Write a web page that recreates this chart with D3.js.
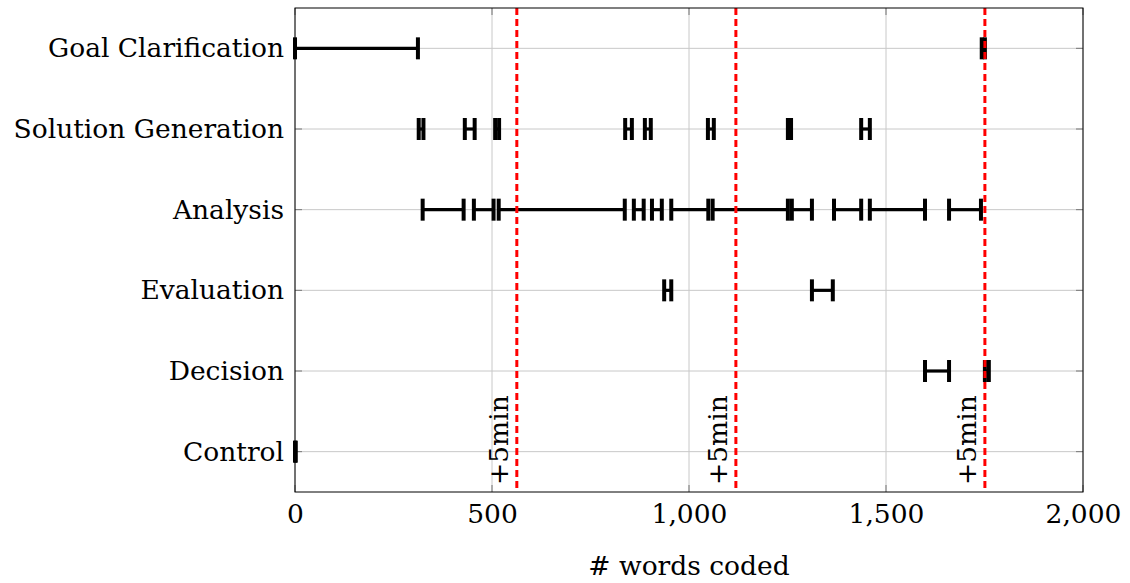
<!DOCTYPE html>
<html>
<head>
<meta charset="utf-8">
<script src="https://cdn.jsdelivr.net/npm/d3@7"></script>
<style>
  body { margin: 0; background: #fff; }
  text { font-family: "DejaVu Serif", "Liberation Serif", serif; }
</style>
</head>
<body>
<svg id="chart"></svg>
<script>
// categories, top to bottom
var categories = ["Goal Clarification", "Solution Generation", "Analysis", "Evaluation", "Decision", "Control"];

// intervals per category [start, end] in words coded
var goalClarification = [[0, 312], [1743, 1751]];
var solutionGeneration = [[314, 326], [431, 456], [508, 518], [838, 855], [888, 903], [1048, 1063], [1251, 1259], [1437, 1459]];
var analysis = [[324, 428], [454, 504], [517, 837], [860, 885], [906, 931], [955, 1049], [1060, 1251], [1261, 1312], [1368, 1437], [1459, 1599], [1660, 1741]];
var evaluation = [[937, 955], [1312, 1365]];
var decision = [[1599, 1660], [1751, 1761]];
var control = [[0, 2]];

var markers = [563, 1119, 1751];
var markerLabel = "+5min";
var xTicks = [0, 500, 1000, 1500, 2000];

var series = [goalClarification, solutionGeneration, analysis, evaluation, decision, control];

var fontSize = 26.5;

var margin = {top: 8, right: 47, bottom: 91, left: 295},
    width = 1130 - margin.left - margin.right,
    height = 583 - margin.top - margin.bottom;

var svg = d3.select("#chart")
    .attr("width", 1130)
    .attr("height", 583)
  .append("g")
    .attr("transform", "translate(" + margin.left + "," + margin.top + ")");

var x = d3.scaleLinear()
    .domain([0, 2000])
    .range([0, width]);

var y = d3.scalePoint()
    .domain(categories)
    .range([0, height])
    .padding(0.5);

// grid
svg.append("g")
    .selectAll("line")
    .data(xTicks)
    .enter().append("line")
      .attr("x1", function(d) { return x(d); })
      .attr("x2", function(d) { return x(d); })
      .attr("y1", 0)
      .attr("y2", height)
      .attr("stroke", "#c8c8c8")
      .attr("stroke-width", 1);

svg.append("g")
    .selectAll("line")
    .data(categories)
    .enter().append("line")
      .attr("x1", 0)
      .attr("x2", width)
      .attr("y1", function(d) { return y(d); })
      .attr("y2", function(d) { return y(d); })
      .attr("stroke", "#c8c8c8")
      .attr("stroke-width", 1);

// inward ticks
var tickG = svg.append("g").attr("stroke", "#777").attr("stroke-width", 1);
xTicks.forEach(function(t) {
  tickG.append("line").attr("x1", x(t)).attr("x2", x(t)).attr("y1", height).attr("y2", height - 7);
  tickG.append("line").attr("x1", x(t)).attr("x2", x(t)).attr("y1", 0).attr("y2", 7);
});
categories.forEach(function(c) {
  tickG.append("line").attr("x1", 0).attr("x2", 7).attr("y1", y(c)).attr("y2", y(c));
  tickG.append("line").attr("x1", width).attr("x2", width - 7).attr("y1", y(c)).attr("y2", y(c));
});

// x axis labels
var xAxis = d3.axisBottom(x)
    .tickValues(xTicks)
    .tickSize(0)
    .tickPadding(12)
    .tickFormat(d3.format(","));

svg.append("g")
    .attr("transform", "translate(0," + height + ")")
    .call(xAxis)
    .call(function(g) { g.select(".domain").remove(); })
  .selectAll("text")
    .attr("font-family", "DejaVu Serif, serif")
    .attr("font-size", fontSize)
    .attr("fill", "#000");

// y axis labels
var yAxis = d3.axisLeft(y).tickSize(0).tickPadding(11);
svg.append("g")
    .call(yAxis)
    .call(function(g) { g.select(".domain").remove(); })
  .selectAll("text")
    .attr("font-family", "DejaVu Serif, serif")
    .attr("font-size", fontSize)
    .attr("fill", "#000");

// intervals
categories.forEach(function(c, i) {
  var g = svg.append("g");
  g.selectAll("line.seg")
      .data(series[i])
      .enter().append("line")
        .attr("class", "seg")
        .attr("x1", function(d) { return x(d[0]); })
        .attr("x2", function(d) { return x(d[1]); })
        .attr("y1", y(c))
        .attr("y2", y(c))
        .attr("stroke", "#000")
        .attr("stroke-width", 3.2);
  var caps = [];
  series[i].forEach(function(d) { caps.push(d[0]); caps.push(d[1]); });
  g.selectAll("line.cap")
      .data(caps)
      .enter().append("line")
        .attr("class", "cap")
        .attr("x1", function(d) { return x(d); })
        .attr("x2", function(d) { return x(d); })
        .attr("y1", y(c) - 11)
        .attr("y2", y(c) + 11)
        .attr("stroke", "#000")
        .attr("stroke-width", 4);
});

// markers
svg.append("g")
    .selectAll("line")
    .data(markers)
    .enter().append("line")
      .attr("x1", function(d) { return x(d); })
      .attr("x2", function(d) { return x(d); })
      .attr("y1", 0)
      .attr("y2", height)
      .attr("stroke", "#ff0000")
      .attr("stroke-width", 3)
      .attr("stroke-dasharray", "7,4");

svg.append("g")
    .selectAll("text")
    .data(markers)
    .enter().append("text")
      .attr("transform", function(d) { return "translate(" + (x(d) - 9) + "," + (height - 7) + ") rotate(-90)"; })
      .attr("font-size", fontSize)
      .attr("text-anchor", "start")
      .text(markerLabel);

// frame
svg.append("rect")
    .attr("width", width)
    .attr("height", height)
    .attr("fill", "none")
    .attr("stroke", "#000")
    .attr("stroke-width", 1);

// axis title
svg.append("text")
    .attr("x", width / 2)
    .attr("y", height + 83)
    .attr("text-anchor", "middle")
    .attr("font-size", fontSize)
    .text("# words coded");
</script>
</body>
</html>
